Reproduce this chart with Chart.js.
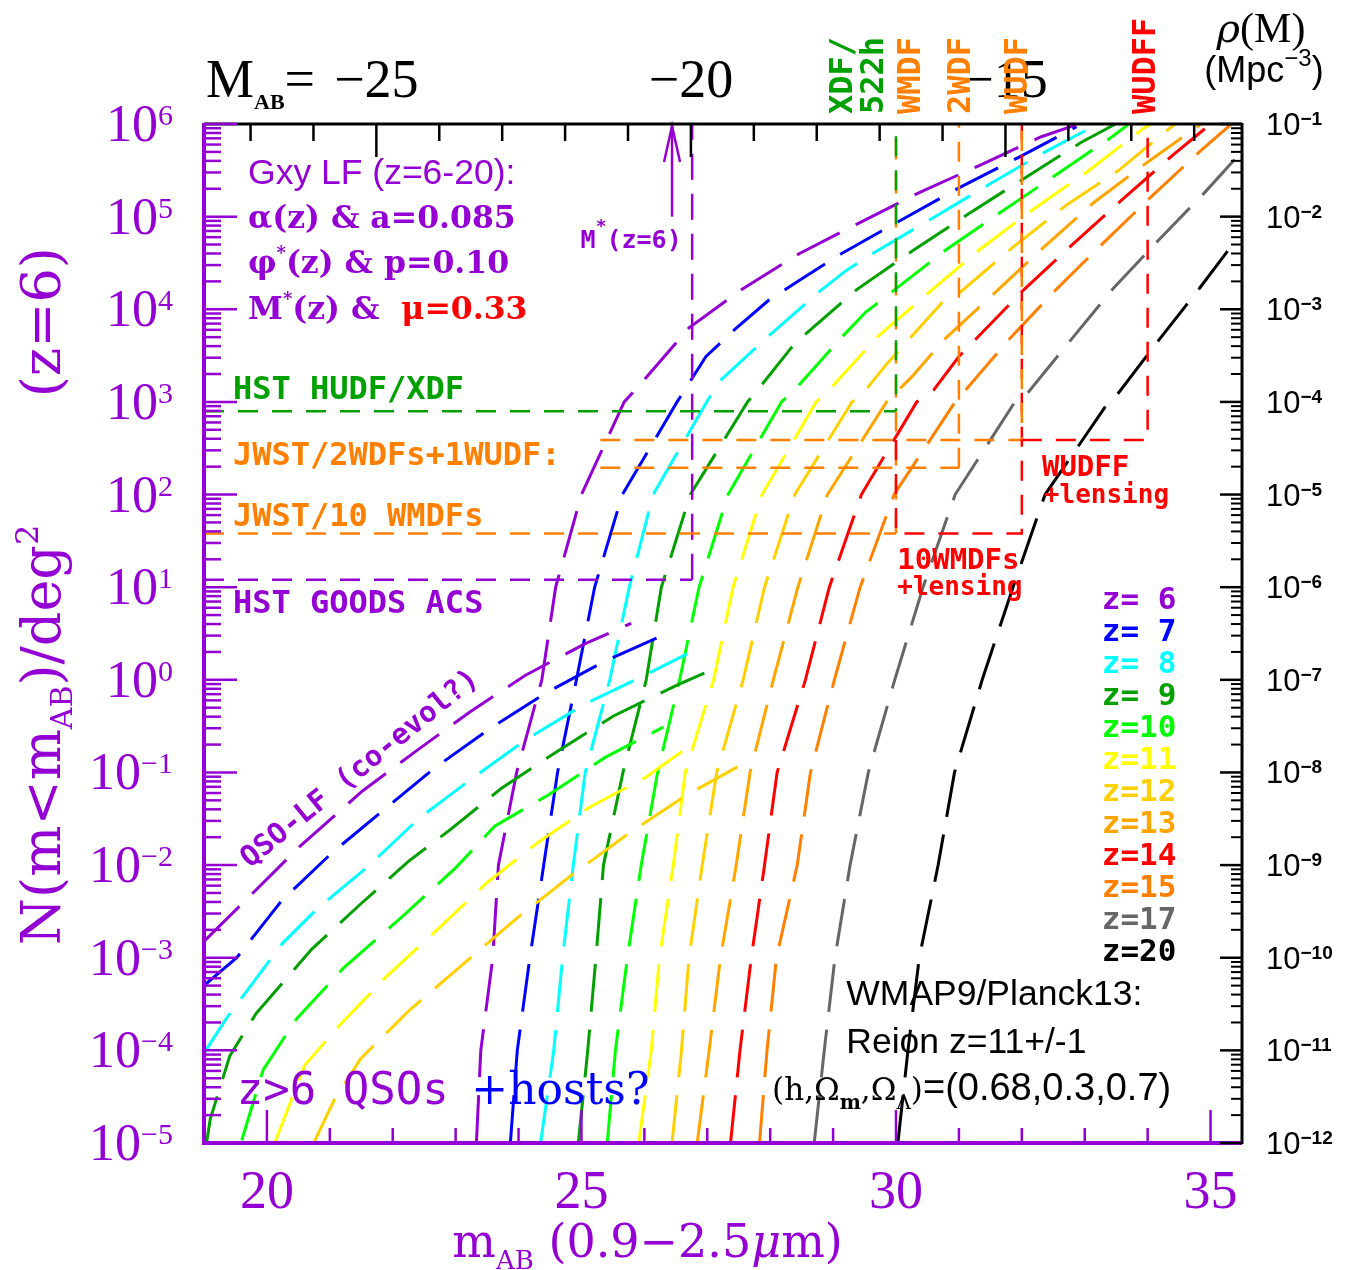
<!DOCTYPE html>
<html><head><meta charset="utf-8">
<script src="https://cdn.jsdelivr.net/npm/chart.js@4.4.1/dist/chart.umd.min.js"></script>
<style>html,body{margin:0;padding:0;background:#fff;}#wrap{width:1351px;height:1270px;}</style>
</head><body><div id="wrap"><canvas id="c" width="1351" height="1270"></canvas></div>
<script>
// ---------------- DATA ----------------
// axis ranges
const magMin = 19, magMax = 35.5;
const logNMin = -5, logNMax = 6;
const rhoLogMin = -12, rhoLogMax = -1;      // right axis rho(M) [Mpc^-3]
const distMod = 46.74;                       // top axis: M_AB = m_AB - distMod
const topTickLabels = [-25, -20, -15];
const bottomTickLabels = [20, 25, 30, 35];

// Galaxy LF cumulative counts: m_AB and log10 N(<m)/deg^2
const gxyZ6_m    = [23.33,23.40,23.59,23.68,23.97,24.37,24.59,25.00,25.68,26.00,26.71,27.56,28.46,29.41,30.37,31.35,32.30,32.86];
const gxyZ6_logN = [-5,-4,-3,-2,-1,0,1,2,3,3.24,3.80,4.22,4.60,4.93,5.26,5.56,5.86,5.99];
const gxyZ7_m    = [23.87,23.98,24.18,24.40,24.62,24.92,25.21,25.65,26.52,26.98,27.40,27.98,28.46,29.13,30.02,31.00,31.95,32.87];
const gxyZ7_logN = [-5,-4,-3,-2,-1,0,1,2,3,3.49,3.76,4.10,4.31,4.60,4.94,5.31,5.64,5.97];
const gxyZ8_m    = [24.35,24.56,24.70,24.87,25.06,25.45,25.76,26.14,26.99,27.19,27.94,28.78,29.21,29.65,30.52,31.51,32.40,33.18];
const gxyZ8_logN = [-5,-4,-3,-2,-1,0,1,2,3,3.22,3.69,4.19,4.42,4.61,4.96,5.36,5.71,5.99];
const gxyZ9_m    = [24.95,25.10,25.23,25.35,25.66,26.03,26.27,26.73,27.64,27.86,28.33,28.54,29.37,30.24,31.13,32.03,32.94,33.49];
const gxyZ9_logN = [-5,-4,-3,-2,-1,0,1,2,3,3.18,3.58,3.72,4.21,4.62,5.02,5.41,5.80,6.0];
const gxyZ10_m    = [25.41,25.54,25.73,25.95,26.21,26.56,26.87,27.33,28.18,28.43,29.14,29.52,29.94,30.79,31.67,32.54,33.43,33.70];
const gxyZ10_logN = [-5,-4,-3,-2,-1,0,1,2,3,3.16,3.70,3.97,4.19,4.64,5.05,5.45,5.86,6.0];
const gxyZ11_m    = [25.91,26.11,26.24,26.46,26.65,27.10,27.41,27.87,28.73,28.98,29.70,30.52,31.32,32.16,33.03,33.91,34.05];
const gxyZ11_logN = [-5,-4,-3,-2,-1,0,1,2,3,3.16,3.70,4.18,4.64,5.07,5.48,5.94,6.0];
const gxyZ12_m    = [26.44,26.59,26.71,26.92,27.15,27.57,27.91,28.39,29.30,29.52,29.84,30.73,31.03,31.84,32.70,33.54,34.38,34.44];
const gxyZ12_logN = [-5,-4,-3,-2,-1,0,1,2,3,3.13,3.40,4.07,4.19,4.66,5.12,5.50,5.97,6.0];
const gxyZ13_m    = [26.84,27.03,27.21,27.46,27.68,28.05,28.44,28.91,29.85,30.25,30.76,31.59,32.35,33.14,33.98,34.81,34.85];
const gxyZ13_logN = [-5,-4,-3,-2,-1,0,1,2,3,3.27,3.67,4.19,4.67,5.15,5.58,5.98,6.0];
const gxyZ14_m    = [27.37,27.52,27.70,27.91,28.11,28.56,28.94,29.45,30.33,30.60,31.00,32.03,32.79,33.59,34.41,35.00];
const gxyZ14_logN = [-5,-4,-3,-2,-1,0,1,2,3,3.13,3.49,4.21,4.69,5.18,5.67,6.0];
const gxyZ15_m    = [27.83,27.95,28.10,28.43,28.64,29.02,29.43,29.97,30.94,31.11,31.79,32.54,33.30,34.05,34.84,35.33];
const gxyZ15_logN = [-5,-4,-3,-2,-1,0,1,2,3,3.13,3.67,4.21,4.72,5.21,5.71,6.0];
const gxyZ17_m    = [28.70,28.86,29.03,29.27,29.56,29.98,30.43,30.94,31.89,32.11,32.78,33.46,34.18,34.92,35.48];
const gxyZ17_logN = [-5,-4,-3,-2,-1,0,1,2,3,3.11,3.67,4.23,4.75,5.27,5.69];
const gxyZ20_m    = [30.03,30.19,30.37,30.67,30.93,31.37,31.86,32.37,33.38,33.54,34.18,34.84,35.44];
const gxyZ20_logN = [-5,-4,-3,-2,-1,0,1,2,3,3.10,3.67,4.24,4.78];

// QSO LF cumulative counts (co-evolution)
const qsoZ6_m    = [19.02,19.75,20.52,21.52,22.37,23.22,24.11,25.06,25.79];
const qsoZ6_logN = [-2.81,-2.32,-1.80,-1.20,-0.77,-0.35,0.05,0.39,0.61];
const qsoZ7_m    = [19.00,19.52,20.24,21.03,21.83,22.67,23.56,24.44,25.37,26.29];
const qsoZ7_logN = [-3.30,-3.00,-2.38,-1.87,-1.42,-0.95,-0.52,-0.14,0.20,0.48];
const qsoZ8_m    = [19.00,19.35,20.24,20.80,21.60,22.41,23.25,24.11,25.03,25.95,26.68];
const qsoZ8_logN = [-4.03,-3.66,-2.85,-2.47,-2.02,-1.50,-1.07,-0.65,-0.27,0.03,0.28];
const qsoZ9_m    = [19.04,19.10,19.41,19.83,20.71,21.49,22.25,22.91,23.73,24.62,25.51,26.51,26.98];
const qsoZ9_logN = [-5.00,-4.74,-4.06,-3.60,-2.91,-2.42,-1.96,-1.62,-1.17,-0.77,-0.39,-0.06,0.08];
const qsoZ10_m    = [19.60,19.94,20.47,21.22,22.16,23.00,23.62,24.48,25.37,26.30];
const qsoZ10_logN = [-4.97,-4.21,-3.66,-3.11,-2.55,-2.03,-1.58,-1.24,-0.84,-0.51];
const qsoZ11_m    = [20.13,20.60,21.14,21.89,22.67,23.48,24.32,25.14,26.03,26.75];
const qsoZ11_logN = [-4.99,-4.16,-3.74,-3.21,-2.72,-2.20,-1.75,-1.37,-1.05,-0.70];
const qsoZ12_m    = [20.75,21.08,21.49,22.26,23.10,23.98,24.84,25.79,26.68,27.48];
const qsoZ12_logN = [-4.99,-4.52,-4.09,-3.57,-3.08,-2.57,-2.11,-1.64,-1.24,-0.94];

// survey limits (magnitude, log10 N/deg^2)
const limHUDF_m = 30.0,  limHUDF_logN = 2.90;
const limWMDF_m = 30.0,  lim10WMDF_logN = 1.58;
const lim2WDF_m = 31.0,  lim2WDF_logN = 2.29;
const limWUDF_m = 32.0,  limWUDF_logN = 2.59;
const limWUDFF_m = 34.0;
const limGOODS_m = 26.76, limGOODS_logN = 1.08;
const jwstLinesStart_m = 25.3;
const mStarZ6 = 26.44;

const legendLabels = ['z= 6','z= 7','z= 8','z= 9','z=10','z=11','z=12','z=13','z=14','z=15','z=17','z=20'];

// ---------------- STYLE ----------------
const C = {purple:'#9400D3', blue:'#0000FF', cyan:'#00FFFF', green:'#00A000', lime:'#00FF00', yellow:'#FFFF00',
  gold:'#FFD000', orange:'#FFA500', red:'#FF0000', orange2:'#FF8000', gray:'#666666', black:'#000000'};
const legendColors = [C.purple,C.blue,C.cyan,C.green,C.lime,C.yellow,C.gold,C.orange,C.red,C.orange2,C.gray,C.black];

const gxySeries = [
  [gxyZ6_m,gxyZ6_logN],[gxyZ7_m,gxyZ7_logN],[gxyZ8_m,gxyZ8_logN],[gxyZ9_m,gxyZ9_logN],
  [gxyZ10_m,gxyZ10_logN],[gxyZ11_m,gxyZ11_logN],[gxyZ12_m,gxyZ12_logN],[gxyZ13_m,gxyZ13_logN],
  [gxyZ14_m,gxyZ14_logN],[gxyZ15_m,gxyZ15_logN],[gxyZ17_m,gxyZ17_logN],[gxyZ20_m,gxyZ20_logN]];
const qsoSeries = [
  [qsoZ6_m,qsoZ6_logN],[qsoZ7_m,qsoZ7_logN],[qsoZ8_m,qsoZ8_logN],[qsoZ9_m,qsoZ9_logN],
  [qsoZ10_m,qsoZ10_logN],[qsoZ11_m,qsoZ11_logN],[qsoZ12_m,qsoZ12_logN]];

function mkSet(pair, color, label) {
  return { label, data: pair[0].map((m,i)=>({x:m, y:Math.pow(10,pair[1][i])})),
    showLine:true, borderColor:color, backgroundColor:color, borderWidth:3, borderDash:[48,18],
    pointRadius:0, fill:false, tension:0, clip:0 };
}
const datasets = [];
qsoSeries.forEach((p,i)=>datasets.push(mkSet(p, legendColors[i], 'QSO '+legendLabels[i])));
gxySeries.forEach((p,i)=>datasets.push(mkSet(p, legendColors[i], 'Gxy '+legendLabels[i])));

// ---------------- DRAWING HELPERS ----------------
function rich(ctx, runs, x, y, opt) {
  opt = opt || {};
  ctx.save();
  ctx.translate(x, y);
  if (opt.rot) ctx.rotate(opt.rot);
  ctx.textBaseline = 'alphabetic'; ctx.textAlign = 'left';
  let total = 0;
  runs.forEach(r => { ctx.font = r[1]; total += ctx.measureText(r[0]).width; });
  let cx = opt.align === 'center' ? -total/2 : (opt.align === 'right' ? -total : 0);
  runs.forEach(r => { ctx.font = r[1]; ctx.fillStyle = r[2]; ctx.fillText(r[0], cx, r[3]||0); cx += ctx.measureText(r[0]).width; });
  ctx.restore();
  return total;
}
function seg(ctx, pts, color, w, dash, off) {
  ctx.save(); ctx.strokeStyle = color; ctx.lineWidth = w; ctx.setLineDash(dash || []);
  ctx.lineDashOffset = off || 0; ctx.lineCap = 'butt';
  ctx.beginPath(); pts.forEach((p,i)=> i ? ctx.lineTo(p[0],p[1]) : ctx.moveTo(p[0],p[1])); ctx.stroke(); ctx.restore();
}

const SERIF = '"Liberation Serif"', DSERIF = '"DejaVu Serif"', SANS = '"Liberation Sans"', MONO = '"DejaVu Sans Mono"';

const decor = {
  id: 'decor',
  afterDatasetsDraw(chart) {
    const ctx = chart.ctx, a = chart.chartArea;
    const sx = chart.scales.x, sy = chart.scales.y, sx2 = chart.scales.x2, sy2 = chart.scales.y2;
    const X = m => sx.getPixelForValue(m);
    const Y = l => sy.getPixelForValue(Math.pow(10, l));
    const D = [20, 14];

    // ---- survey limit lines ----
    ctx.save();
    ctx.beginPath(); ctx.rect(a.left, a.top, a.right-a.left, a.bottom-a.top); ctx.clip();
    seg(ctx, [[X(magMin), Y(limGOODS_logN)], [X(limGOODS_m), Y(limGOODS_logN)]], C.purple, 2.5, D);
    seg(ctx, [[X(limGOODS_m), Y(limGOODS_logN)], [X(limGOODS_m), Y(logNMax)]], C.purple, 2.5, [26,14]);
    seg(ctx, [[X(magMin), Y(limHUDF_logN)], [X(limHUDF_m), Y(limHUDF_logN)]], C.green, 2.5, D);
    seg(ctx, [[X(magMin), Y(lim10WMDF_logN)], [X(limWMDF_m), Y(lim10WMDF_logN)]], C.orange2, 2.5, D);
    seg(ctx, [[X(jwstLinesStart_m), Y(limWUDF_logN)], [X(limWUDF_m), Y(limWUDF_logN)]], C.orange2, 2.5, D);
    seg(ctx, [[X(jwstLinesStart_m), Y(lim2WDF_logN)], [X(lim2WDF_m), Y(lim2WDF_logN)]], C.orange2, 2.5, D);
    seg(ctx, [[X(lim2WDF_m), Y(lim2WDF_logN)], [X(lim2WDF_m), Y(logNMax)]], C.orange2, 2.5, D);
    seg(ctx, [[X(limWMDF_m), Y(lim10WMDF_logN)], [X(limWMDF_m), Y(logNMax)]], C.orange2, 2.5, D);
    seg(ctx, [[X(limHUDF_m), Y(limHUDF_logN)], [X(limHUDF_m), Y(logNMax)]], C.green, 2.5, D, 17);
    seg(ctx, [[X(limWMDF_m), Y(limWUDF_logN)], [X(limWMDF_m), Y(lim10WMDF_logN)], [X(limWUDF_m), Y(lim10WMDF_logN)], [X(limWUDF_m), Y(logNMax)]], C.red, 2.5, D);
    seg(ctx, [[X(limWUDF_m), Y(limWUDF_logN)], [X(limWUDF_m), Y(logNMax)]], C.orange2, 2.5, D, 17);
    seg(ctx, [[X(limWUDF_m), Y(limWUDF_logN)], [X(limWUDFF_m), Y(limWUDF_logN)], [X(limWUDFF_m), Y(logNMax)]], C.red, 2.5, D);
    ctx.restore();

    // M*(z=6) arrow
    const ax = X(mStarZ6);
    seg(ctx, [[ax, Y(5.0)], [ax, a.top+1]], C.purple, 2.5);
    seg(ctx, [[ax-8, a.top+38], [ax, a.top+2], [ax+8, a.top+38]], C.purple, 2.5);

    // ---- frame ----
    seg(ctx, [[a.left, a.top], [a.right, a.top]], C.black, 3);
    seg(ctx, [[a.right, a.top-1], [a.right, a.bottom+1]], C.black, 3);
    seg(ctx, [[a.left, a.top-1], [a.left, a.bottom+2]], C.purple, 4);
    seg(ctx, [[a.left-1, a.bottom], [a.right, a.bottom]], C.purple, 4);

    // ---- ticks ----
    for (let d = logNMin; d <= logNMax; d++) {
      const yy = sy.getPixelForValue(Math.pow(10, d));
      seg(ctx, [[a.left, yy], [a.left+33, yy]], C.purple, 2.5);
      if (d < logNMax) for (let k = 2; k <= 9; k++) {
        const yk = sy.getPixelForValue(k*Math.pow(10, d));
        seg(ctx, [[a.left, yk], [a.left+17, yk]], C.purple, 2.5);
      }
    }
    for (let d = rhoLogMin; d <= rhoLogMax; d++) {
      const yy = sy2.getPixelForValue(Math.pow(10, d));
      seg(ctx, [[a.right-22, yy], [a.right, yy]], C.black, 2.5);
      if (d < rhoLogMax) for (let k = 2; k <= 9; k++) {
        const yk = sy2.getPixelForValue(k*Math.pow(10, d));
        seg(ctx, [[a.right-11, yk], [a.right, yk]], C.black, 2);
      }
    }
    for (let m = Math.ceil(magMin); m <= Math.floor(magMax); m++) {
      const xx = sx.getPixelForValue(m);
      seg(ctx, [[xx, a.bottom], [xx, a.bottom - (m % 5 === 0 ? 33 : 15)]], C.purple, 2.5);
    }
    for (let M = Math.ceil(magMin-distMod); M <= Math.floor(magMax-distMod); M++) {
      const xx = sx2.getPixelForValue(M);
      seg(ctx, [[xx, a.top], [xx, a.top + (M % 5 === 0 ? 33 : 17)]], C.black, 2.5);
    }

    // ---- tick labels ----
    for (let d = logNMin; d <= logNMax; d++) {
      const yy = sy.getPixelForValue(Math.pow(10, d));
      const e = d < 0 ? '\u2212' + (-d) : String(d);
      rich(ctx, [['10', '52px '+SERIF, C.purple, 0], [e, '30px '+SERIF, C.purple, -16]], a.left-31, yy+17, {align:'right'});
    }
    for (let d = rhoLogMin; d <= rhoLogMax; d++) {
      const yy = sy2.getPixelForValue(Math.pow(10, d));
      const e = '\u2212' + (-d);
      rich(ctx, [['10', '31px '+SANS, C.black, 0], [e, 'bold 19px '+SANS, C.black, -10]], a.right+24, yy+11);
    }
    bottomTickLabels.forEach(v => {
      rich(ctx, [[String(v), '54px '+SERIF, C.purple, 0]], sx.getPixelForValue(v), a.bottom+65, {align:'center'});
    });
    topTickLabels.forEach(v => {
      rich(ctx, [['\u2212' + (-v), '54px '+SERIF, C.black, 0]], sx2.getPixelForValue(v), a.top-27, {align:'center'});
    });
    rich(ctx, [['M', '54px '+SERIF, C.black, 0], ['AB', 'bold 22px '+SERIF, C.black, 12], ['=', '54px '+SERIF, C.black, 0]], a.left+2, a.top-27);

    // right axis title
    rich(ctx, [['\u03C1', 'italic 40px '+DSERIF, C.black, 0], ['(M)', '42px '+SERIF, C.black, 0]], a.right+19, a.top-82, {align:'center'});
    rich(ctx, [['(Mpc', '36px '+SANS, C.black, 0], ['\u22123', '24px '+SANS, C.black, -16], [')', '36px '+SANS, C.black, 0]], a.right+22, a.top-42, {align:'center'});

    // axis titles
    rich(ctx, [['N(m<m', '54px '+DSERIF, C.purple, 0], ['AB', '30px '+DSERIF, C.purple, 12], [')/deg', '54px '+DSERIF, C.purple, 0], ['2', '32px '+DSERIF, C.purple, -22]],
      a.left-144, Y(-0.595), {rot:-Math.PI/2, align:'center'});
    rich(ctx, [['(z=6)', '54px '+DSERIF, C.purple, 0]], a.left-144, Y(3.86), {rot:-Math.PI/2, align:'center'});
    rich(ctx, [['m', '46px '+DSERIF, C.purple, 0], ['AB', '26px '+DSERIF, C.purple, 12], [' (0.9\u22122.5', '46px '+DSERIF, C.purple, 0], ['\u03BC', 'italic 46px '+DSERIF, C.purple, 0], ['m)', '46px '+DSERIF, C.purple, 0]],
      X(26.05), a.bottom+114, {align:'center'});

    // top rotated survey labels
    const rot = -Math.PI/2;
    [['XDF/', 29.13, C.green], ['522h', 29.62, C.green], ['WMDF', 30.21, C.orange2], ['2WDF', 31.0, C.orange2], ['WUDF', 31.9, C.orange2], ['WUDFF', 33.94, C.red]]
      .forEach(t => rich(ctx, [[t[0], 'bold 32px '+MONO, t[2], 0]], X(t[1]) + 11, a.top-10, {rot}));

    // ---- in-plot annotations ----
    rich(ctx, [['Gxy LF (z=6-20):', '35.5px '+SANS, C.purple, 0]], X(19.70), Y(5.35));
    rich(ctx, [['\u03B1(z) & a=0.085', 'bold 31.5px '+DSERIF, C.purple, 0]], X(19.70), Y(4.88));
    rich(ctx, [['\u03C6', 'bold 31.5px '+DSERIF, C.purple, 0], ['*', 'bold 18px '+DSERIF, C.purple, -14], ['(z) & p=0.10', 'bold 31.5px '+DSERIF, C.purple, 0]], X(19.70), Y(4.39));
    rich(ctx, [['M', 'bold 31.5px '+DSERIF, C.purple, 0], ['*', 'bold 18px '+DSERIF, C.purple, -14], ['(z) &  ', 'bold 31.5px '+DSERIF, C.purple, 0], ['\u03BC=0.33', 'bold 31.5px '+DSERIF, C.red, 0]], X(19.70), Y(3.90));

    rich(ctx, [['HST HUDF/XDF', 'bold 32px '+MONO, C.green, 0]], X(19.46), Y(3.03));
    rich(ctx, [['JWST/2WDFs+1WUDF:', 'bold 32px '+MONO, C.orange2, 0]], X(19.46), Y(2.32));
    rich(ctx, [['JWST/10 WMDFs', 'bold 32px '+MONO, C.orange2, 0]], X(19.46), Y(1.66));
    rich(ctx, [['HST GOODS ACS', 'bold 32px '+MONO, C.purple, 0]], X(19.46), Y(0.72));

    rich(ctx, [['M', 'bold 25px '+MONO, C.purple, 0], ['*', 'bold 18px '+MONO, C.purple, -16], ['(z=6)', 'bold 25px '+MONO, C.purple, 0]], X(25.79), Y(4.66), {align:'center'});

    rich(ctx, [['QSO-LF (co-evol?)', 'bold 29px '+MONO, C.purple, 0]], X(21.56), Y(-0.92)+10, {rot:-39*Math.PI/180, align:'center'});

    rich(ctx, [['10WMDFs', 'bold 29px '+MONO, C.red, 0]], X(30.02), Y(1.196));
    rich(ctx, [['+lensing', 'bold 26px '+MONO, C.red, 0]], X(30.02), Y(0.916));
    rich(ctx, [['WUDFF', 'bold 29px '+MONO, C.red, 0]], X(32.32), Y(2.20));
    rich(ctx, [['+lensing', 'bold 26px '+MONO, C.red, 0]], X(32.35), Y(1.909));

    rich(ctx, [['z>6 QSOs ', '44px '+MONO, C.purple, 0]], X(19.52), Y(-4.58));
    rich(ctx, [['+hosts?', '44px '+DSERIF, C.blue, 0]], X(23.25), Y(-4.58));

    rich(ctx, [['WMAP9/Planck13:', '35.5px '+SANS, C.black, 0]], X(29.21), Y(-3.51));
    rich(ctx, [['Reion z=11+/-1', '35.5px '+SANS, C.black, 0]], X(29.21), Y(-4.03));
    rich(ctx, [['(h,\u03A9', '31px '+DSERIF, C.black, 0], ['m', 'bold 20px '+DSERIF, C.black, 9], [',\u03A9', '31px '+DSERIF, C.black, 0], ['\u039B', '20px '+DSERIF, C.black, 9], [')', '31px '+DSERIF, C.black, 0], ['=(0.68,0.3,0.7)', '38px '+SANS, C.black, 0]],
      X(28.03), Y(-4.54));

    // legend
    legendLabels.forEach((t, i) => rich(ctx, [[t, 'bold 31px '+MONO, legendColors[i], 0]], X(33.27), Y(0.765 - 0.3455*i)));
  }
};

new Chart(document.getElementById('c'), {
  type: 'scatter',
  data: { datasets },
  options: {
    responsive: false, animation: false, devicePixelRatio: 1, events: [],
    layout: { padding: { left: 204, top: 124, right: 109, bottom: 127 } },
    plugins: { legend: { display: false }, tooltip: { enabled: false } },
    scales: {
      x:  { type: 'linear', min: magMin, max: magMax, display: false },
      y:  { type: 'logarithmic', min: Math.pow(10, logNMin), max: Math.pow(10, logNMax), display: false },
      x2: { type: 'linear', position: 'top', min: magMin - distMod, max: magMax - distMod, display: false },
      y2: { type: 'logarithmic', position: 'right', min: Math.pow(10, rhoLogMin), max: Math.pow(10, rhoLogMax), display: false }
    }
  },
  plugins: [decor]
});
</script></body></html>
